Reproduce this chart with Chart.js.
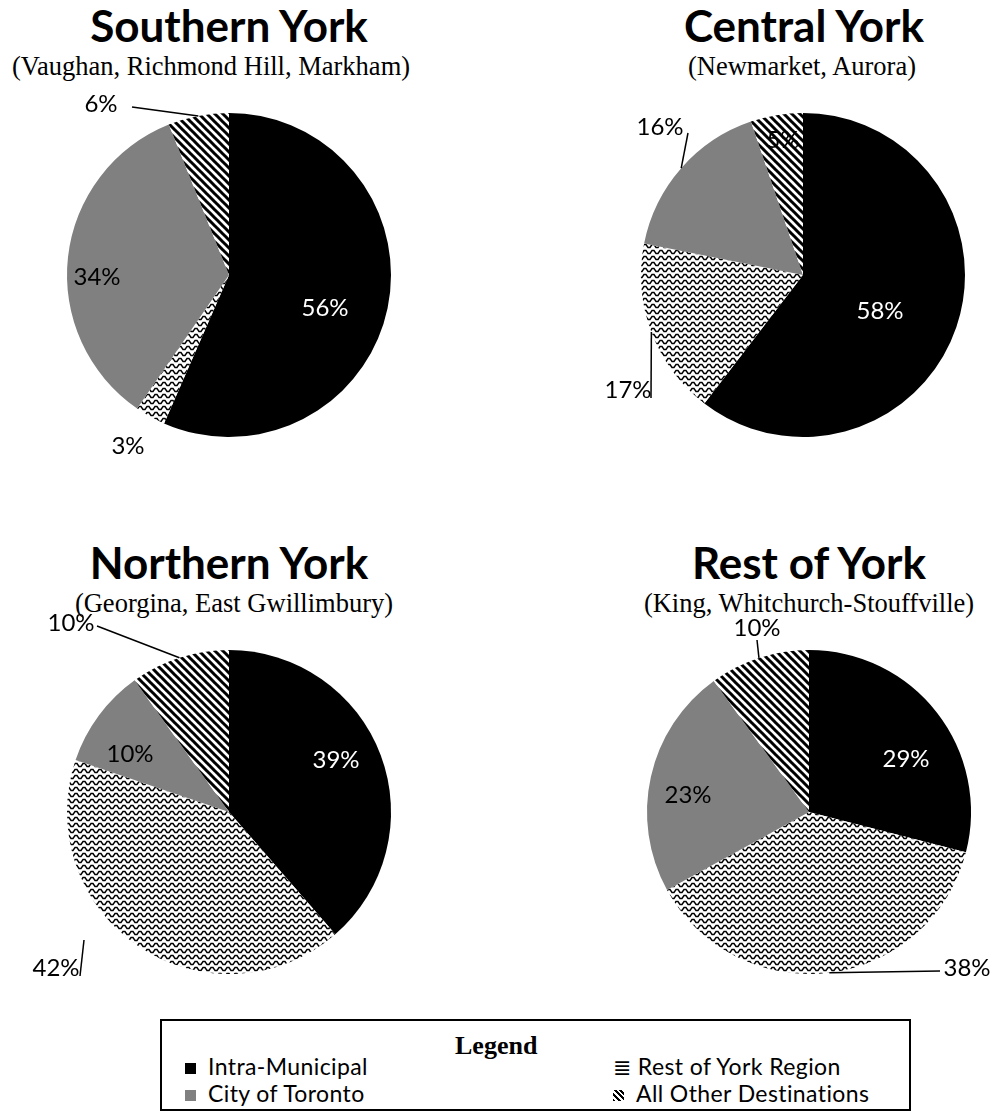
<!DOCTYPE html>
<html>
<head>
<meta charset="utf-8">
<script src="https://cdn.jsdelivr.net/npm/chart.js@4.4.0/dist/chart.umd.min.js"></script>
<style>
    body { margin: 0; background: #fff; width: 994px; height: 1118px; position: relative; overflow: hidden; }
    .title { position: absolute; width: 600px; text-align: center; font-family: Lato, sans-serif; font-weight: bold; font-size: 44px; line-height: 44px; color: #000; white-space: nowrap; }
    .sub { position: absolute; width: 600px; text-align: center; font-family: "Liberation Serif", serif; font-size: 26.5px; line-height: 26px; color: #000; white-space: nowrap; }
    canvas { position: absolute; }
    #legend { position: absolute; left: 160px; top: 1019px; width: 751px; height: 92px; box-sizing: border-box; border: 2px solid #000; }
    #legend .head { position: absolute; left: 293px; top: 12px; font-family: "Liberation Serif", serif; font-weight: bold; font-size: 26px; line-height: 26px; }
    #legend .item { position: absolute; font-family: Lato, sans-serif; font-size: 23px; line-height: 23px; letter-spacing: 0.4px; white-space: nowrap; }
    #legend .mark { display: inline-block; width: 11px; height: 11px; margin-right: 12px; vertical-align: 1px; }
</style>
</head>
<body>
<div id="titles"></div>
<canvas id="pie0" width="497" height="400" style="left:0px;top:75px"></canvas>
<canvas id="pie1" width="497" height="400" style="left:497px;top:75px"></canvas>
<canvas id="pie2" width="497" height="400" style="left:0px;top:612px"></canvas>
<canvas id="pie3" width="497" height="400" style="left:497px;top:612px"></canvas>
<div id="legend"></div>
<script>
// categories and values per region
const categories = ['Intra-Municipal', 'Rest of York Region', 'City of Toronto', 'All Other Destinations'];
const regions = ['Southern York', 'Central York', 'Northern York', 'Rest of York'];
const subtitles = ['(Vaughan, Richmond Hill, Markham)', '(Newmarket, Aurora)', '(Georgina, East Gwillimbury)', '(King, Whitchurch-Stouffville)'];
const southernYork = [56, 3, 34, 6];
const centralYork = [58, 17, 16, 5];
const northernYork = [39, 42, 10, 10];
const restOfYork = [29, 38, 23, 10];
const allValues = [southernYork, centralYork, northernYork, restOfYork];

// page layout
const pieCenters = [[229, 275], [803, 275], [229, 812], [809, 812]];
const titleCenters = [229, 804, 229, 809];
const subCenters = [211, 802, 234, 809];
const radius = 162;

// label placement relative to pie centre; "from" = start of leader line
const labelLayout = [
    [{at: [96, 33]}, {at: [-101, 171]}, {at: [-132, 2]}, {at: [-128, -171], from: [-97, -168]}],
    [{at: [77, 36]}, {at: [-175, 115], from: [-152, 123]}, {at: [-143, -148], from: [-115, -142]}, {at: [-20, -135]}],
    [{at: [107, -52]}, {at: [-173, 156], from: [-149, 164], to: [-145, 128]}, {at: [-99, -58]}, {at: [-158, -189], from: [-132, -186]}],
    [{at: [97, -53]}, {at: [158, 156], from: [131, 159]}, {at: [-121, -17]}, {at: [-52, -184], from: [-52, -172]}]
];

function makeWave() {
    const c = document.createElement('canvas');
    c.width = 8; c.height = 6;
    const g = c.getContext('2d');
    g.fillStyle = '#fff';
    g.fillRect(0, 0, 8, 6);
    g.strokeStyle = '#000';
    g.lineWidth = 1.4;
    g.beginPath();
    g.moveTo(0, 4.5); g.lineTo(1, 4.5); g.lineTo(3, 1.5); g.lineTo(5, 1.5); g.lineTo(7, 4.5); g.lineTo(8, 4.5);
    g.stroke();
    return g.createPattern(c, 'repeat');
}

function makeStripes() {
    const c = document.createElement('canvas');
    c.width = 8; c.height = 8;
    const g = c.getContext('2d');
    g.fillStyle = '#fff';
    g.fillRect(0, 0, 8, 8);
    g.strokeStyle = '#000';
    g.lineWidth = 3;
    g.beginPath();
    g.moveTo(-1, -1); g.lineTo(9, 9);
    g.moveTo(7, -1); g.lineTo(9, 1);
    g.moveTo(-1, 7); g.lineTo(1, 9);
    g.stroke();
    return g.createPattern(c, 'repeat');
}

const fills = ['#000000', makeWave(), '#808080', makeStripes()];
const textColors = ['#fff', '#000', '#000', '#000'];

const pieLabels = {
    id: 'pieLabels',
    afterDatasetsDraw(chart, args, opts) {
        const ctx = chart.ctx;
        const meta = chart.getDatasetMeta(0);
        const data = chart.data.datasets[0].data;
        ctx.save();
        meta.data.forEach((arc, i) => {
            const lay = opts.layout[i];
            const cx = arc.x, cy = arc.y;
            if (lay.from) {
                const mid = (arc.startAngle + arc.endAngle) / 2;
                let ex = cx + arc.outerRadius * Math.cos(mid);
                let ey = cy + arc.outerRadius * Math.sin(mid);
                if (lay.to) { ex = cx + lay.to[0]; ey = cy + lay.to[1]; }
                ctx.strokeStyle = '#000';
                ctx.lineWidth = 1.5;
                ctx.beginPath();
                ctx.moveTo(cx + lay.from[0], cy + lay.from[1]);
                ctx.lineTo(ex, ey);
                ctx.stroke();
            }
            ctx.fillStyle = textColors[i];
            ctx.font = '24px Lato';
            ctx.textAlign = 'center';
            ctx.textBaseline = 'middle';
            ctx.fillText(data[i] + '%', cx + lay.at[0], cy + lay.at[1]);
        });
        ctx.restore();
    }
};

// titles
const titlesDiv = document.getElementById('titles');
regions.forEach((name, i) => {
    const rowShift = i < 2 ? 0 : 537;
    const t = document.createElement('div');
    t.className = 'title';
    t.textContent = name;
    t.style.left = (titleCenters[i] - 300) + 'px';
    t.style.top = (3 + rowShift) + 'px';
    titlesDiv.appendChild(t);
    const s = document.createElement('div');
    s.className = 'sub';
    s.textContent = subtitles[i];
    s.style.left = (subCenters[i] - 300) + 'px';
    s.style.top = (53 + rowShift) + 'px';
    titlesDiv.appendChild(s);
});

// pies
allValues.forEach((values, i) => {
    const canvas = document.getElementById('pie' + i);
    const left = i % 2 === 0 ? 0 : 497;
    const top = i < 2 ? 75 : 612;
    const lx = pieCenters[i][0] - left;
    const ly = pieCenters[i][1] - top;
    new Chart(canvas.getContext('2d'), {
        type: 'pie',
        data: {
            labels: categories,
            datasets: [{
                data: values,
                backgroundColor: fills,
                borderWidth: 0
            }]
        },
        options: {
            responsive: false,
            animation: false,
            layout: {
                padding: {
                    left: lx - radius,
                    right: canvas.width - lx - radius,
                    top: ly - radius,
                    bottom: canvas.height - ly - radius
                }
            },
            plugins: {
                legend: { display: false },
                tooltip: { enabled: false },
                pieLabels: { layout: labelLayout[i] }
            }
        },
        plugins: [pieLabels]
    });
});

// legend box
const legend = document.getElementById('legend');
const head = document.createElement('div');
head.className = 'head';
head.textContent = 'Legend';
legend.appendChild(head);
const legendSlots = [
    {cat: 0, x: 23, y: 34, mark: 'background:#000'},
    {cat: 2, x: 23, y: 61, mark: 'background:#808080'},
    {cat: 1, x: 451, y: 34, glyph: '\u2263'},
    {cat: 3, x: 451, y: 61, mark: 'background:repeating-linear-gradient(45deg,#000 0 2px,#fff 2px 4px)'}
];
legendSlots.forEach(slot => {
    const it = document.createElement('div');
    it.className = 'item';
    it.style.left = slot.x + 'px';
    it.style.top = slot.y + 'px';
    if (slot.glyph) {
        it.innerHTML = '<span style="font-family:DejaVu Sans;font-size:22px;margin-right:6px">' + slot.glyph + '</span>';
    } else {
        it.innerHTML = '<span class="mark" style="' + slot.mark + '"></span>';
    }
    it.appendChild(document.createTextNode(categories[slot.cat]));
    legend.appendChild(it);
});
</script>
</body>
</html>
